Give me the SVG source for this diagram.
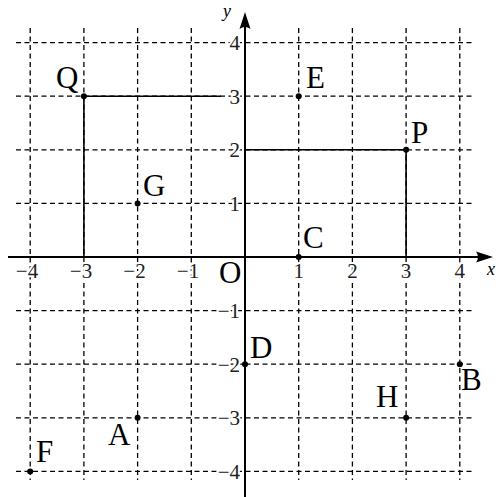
<svg xmlns="http://www.w3.org/2000/svg" width="499" height="497" viewBox="0 0 499 497">
<style>
.grid{stroke:#000;stroke-width:1.3;stroke-dasharray:5 3.5;fill:none}
.solid{stroke:#000;stroke-width:1.6;fill:none}
.axis{stroke:#000;stroke-width:2;fill:none}
.lbl{font-family:"Liberation Serif",serif;font-size:31px;fill:#000}
.num{font-family:"Liberation Serif",serif;font-size:21px;fill:#222;stroke:#fff;stroke-width:4;paint-order:stroke}
.var{font-family:"Liberation Serif",serif;font-style:italic;font-size:18px;fill:#000}
.dot{fill:#000}
</style>
<rect width="499" height="497" fill="#fff"/>
<g id="grid">
<path class="grid" d="M30.2,28V480M83.9,28V480M137.6,28V480M191.3,28V480M298.7,28V480M352.4,28V480M406.1,28V480M459.8,28V480"/>
<path class="grid" d="M16,42.6H472M16,96.2H472M16,149.8H472M16,203.4H472M16,310.6H472M16,364.2H472M16,417.8H472M16,471.4H472"/>
</g>
<g id="ticks">
<text class="num" x="298.7" y="278" text-anchor="middle">1</text>
<text class="num" x="352.4" y="278" text-anchor="middle">2</text>
<text class="num" x="406.1" y="278" text-anchor="middle">3</text>
<text class="num" x="459.8" y="278" text-anchor="middle">4</text>
<text class="num" x="188" y="278" text-anchor="middle">−1</text>
<text class="num" x="134.5" y="278" text-anchor="middle">−2</text>
<text class="num" x="81" y="278" text-anchor="middle">−3</text>
<text class="num" x="27" y="278" text-anchor="middle">−4</text>
<text class="num" x="240" y="50" text-anchor="end">4</text>
<text class="num" x="240" y="103.6" text-anchor="end">3</text>
<text class="num" x="240" y="157.2" text-anchor="end">2</text>
<text class="num" x="240" y="210.8" text-anchor="end">1</text>
<text class="num" x="240" y="318" text-anchor="end">−1</text>
<text class="num" x="240" y="371.6" text-anchor="end">−2</text>
<text class="num" x="240" y="425.2" text-anchor="end">−3</text>
<text class="num" x="240" y="478.8" text-anchor="end">−4</text>
</g>
<g id="connectors">
<path class="solid" d="M83.9,96.2V257M83.9,96.2H221"/>
<path class="solid" d="M245,149.8H406.1V257"/>
</g>
<g id="axes">
<path class="axis" d="M8,257H480"/>
<path class="axis" d="M245,497V25"/>
<path d="M493,257L476,251.5Q480,257 476,262.5Z" fill="#000"/>
<path d="M245,12L239.5,29Q245,25 250.5,29Z" fill="#000"/>
<text class="var" x="487" y="275">x</text>
<text class="var" x="223" y="17">y</text>
<text class="lbl" x="219" y="283">O</text>
</g>
<g id="Q"><circle class="dot" cx="83.9" cy="96.2" r="3"/><text class="lbl" x="56" y="88">Q</text></g>
<g id="E"><circle class="dot" cx="298.7" cy="96.2" r="3"/><text class="lbl" x="306" y="88">E</text></g>
<g id="P"><circle class="dot" cx="406.1" cy="149.8" r="3"/><text class="lbl" x="411" y="143">P</text></g>
<g id="G"><circle class="dot" cx="137.6" cy="203.4" r="3"/><text class="lbl" x="143" y="196">G</text></g>
<g id="C"><circle class="dot" cx="298.7" cy="257" r="3"/><text class="lbl" x="303" y="248">C</text></g>
<g id="D"><circle class="dot" cx="245" cy="364.2" r="3"/><text class="lbl" x="250" y="358">D</text></g>
<g id="B"><circle class="dot" cx="459.8" cy="364.2" r="3"/><text class="lbl" x="461" y="390">B</text></g>
<g id="H"><circle class="dot" cx="406.1" cy="417.8" r="3"/><text class="lbl" x="376" y="407">H</text></g>
<g id="A"><circle class="dot" cx="137.6" cy="417.8" r="3"/><text class="lbl" x="108" y="445">A</text></g>
<g id="F"><circle class="dot" cx="30.2" cy="471.4" r="3"/><text class="lbl" x="36" y="462">F</text></g>
</svg>
